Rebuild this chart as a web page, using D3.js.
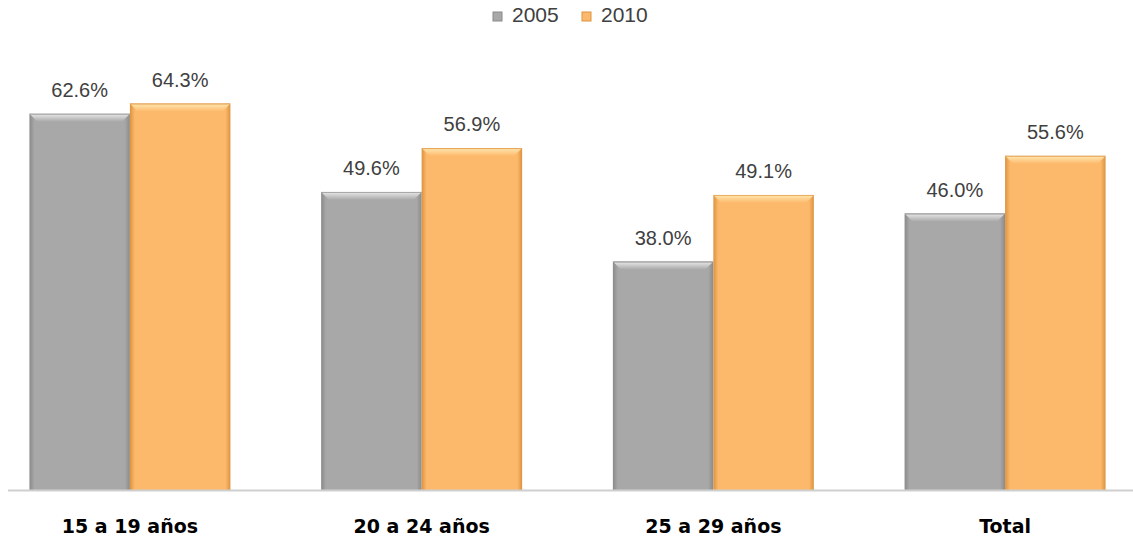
<!DOCTYPE html>
<html><head><meta charset="utf-8">
<script src="https://cdn.jsdelivr.net/npm/d3@7"></script>
<style>body{margin:0;background:#fff}svg{display:block}</style>
</head><body>
<script>
const categories = ["15 a 19 años", "20 a 24 años", "25 a 29 años", "Total"];
const seriesNames = ["2005", "2010"];
const values2005 = [62.6, 49.6, 38.0, 46.0];
const values2010 = [64.3, 56.9, 49.1, 55.6];
const yMax = 70;

const W = 1133, H = 537;
const colors = {"2005": {base:"#a8a8a8", edge:"#8a8a8a", hi:"#dcdcdc"},
                "2010": {base:"#fdb96b", edge:"#dc9340", hi:"#ffdfa4"}};

const svg = d3.select("body").append("svg").attr("width", W).attr("height", H);
const defs = svg.append("defs");
seriesNames.forEach(s => {
  const c = colors[s];
  const g = defs.append("linearGradient").attr("id","side"+s).attr("x1","0").attr("x2","1").attr("y1","0").attr("y2","0");
  [[0,c.edge],[0.05,c.base],[0.95,c.base],[1,c.edge]].forEach(([o,col]) => g.append("stop").attr("offset",o).attr("stop-color",col));
  const t = defs.append("linearGradient").attr("id","top"+s).attr("x1","0").attr("x2","0").attr("y1","0").attr("y2","1");
  [[0,c.edge],[0.2,c.hi],[1,c.base]].forEach(([o,col]) => t.append("stop").attr("offset",o).attr("stop-color",col));
});

const x0 = d3.scaleBand().domain(categories).range([9, 1126]).paddingInner(0.311).paddingOuter(0.07);
const x1 = d3.scaleBand().domain(seriesNames).range([0, x0.bandwidth()]).padding(0);
const y = d3.scaleLinear().domain([0, yMax]).range([490, 490 - 6.01 * yMax]);

const data = categories.map((c, i) => ({cat: c, vals: [
  {s: "2005", v: values2005[i]}, {s: "2010", v: values2010[i]}]}));

const groups = svg.append("g").selectAll("g").data(data).join("g")
  .attr("transform", d => `translate(${x0(d.cat)},0)`);

const bars = groups.selectAll("g.bar").data(d => d.vals).join("g").attr("class","bar");
bars.append("rect")
  .attr("x", d => x1(d.s)).attr("width", x1.bandwidth())
  .attr("y", d => y(d.v)).attr("height", d => y(0) - y(d.v))
  .attr("fill", d => `url(#side${d.s})`);
bars.append("path")
  .attr("d", d => {
    const l = x1(d.s), r = l + x1.bandwidth(), t = y(d.v), b = 8;
    return `M${l},${t}L${r},${t}L${r-b},${t+b}L${l+b},${t+b}Z`;
  })
  .attr("fill", d => `url(#top${d.s})`);

bars.append("text")
  .attr("x", d => x1(d.s) + x1.bandwidth() / 2)
  .attr("y", d => y(d.v) - 17)
  .attr("text-anchor", "middle")
  .attr("font-family", "Liberation Sans, Arial, sans-serif")
  .attr("font-size", 20).attr("fill", "#404040")
  .text(d => d.v.toFixed(1) + "%");

// axis line
svg.append("line").attr("x1", 8).attr("x2", 1133).attr("y1", y(0) + 0.5).attr("y2", y(0) + 0.5)
  .attr("stroke", "#cfcfcf").attr("stroke-width", 2);

// x axis labels
const xAxis = d3.axisBottom(x0).tickSize(0).tickPadding(0);
const ax = svg.append("g").attr("transform", `translate(0,${y(0)})`).call(xAxis);
ax.select(".domain").remove();
ax.selectAll("text").attr("dy", 0).attr("y", 43)
  .attr("font-family", "DejaVu Sans, sans-serif").attr("font-weight", "bold")
  .attr("font-size", 19).attr("fill", "#000");

// legend
const legendX = {"2005": 493, "2010": 582};
const lg = svg.append("g").selectAll("g").data(seriesNames).join("g")
  .attr("transform", s => `translate(${legendX[s]},12)`);
lg.append("rect").attr("width", 9).attr("height", 9).attr("fill", s => colors[s].base)
  .attr("stroke", s => colors[s].edge).attr("stroke-width", 1);
lg.append("text").attr("x", 19).attr("y", 9.5)
  .attr("font-family", "Liberation Sans, Arial, sans-serif").attr("font-size", 21)
  .attr("fill", "#404040").text(s => s);
</script>
</body></html>
